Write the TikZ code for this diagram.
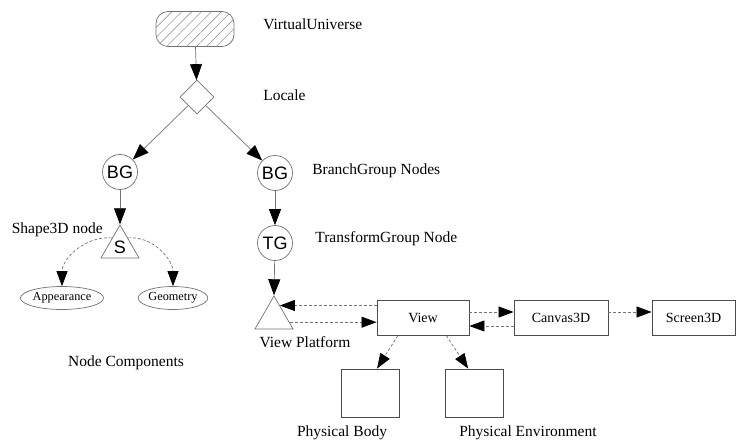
\documentclass[tikz,border=0pt]{standalone}
\usepackage{fontspec}
\setmainfont{Liberation Serif}
\newfontfamily\helv{Liberation Sans}
\usetikzlibrary{shapes.geometric,arrows.meta,patterns.meta,calc}

\tikzset{
  grp/.style={circle, draw=black!55, minimum size=35pt, inner sep=0pt, font=\helv\fontsize{18}{20}\selectfont},
  tri/.style={regular polygon, regular polygon sides=3, draw=black!55, minimum size=44pt, inner sep=0pt, font=\helv\fontsize{18}{20}\selectfont},
  comp/.style={ellipse, draw=black!55, minimum height=23pt, inner sep=0pt, font=\fontsize{12.3}{14}\selectfont},
  box/.style={rectangle, draw=black!70, line width=0.9pt, minimum height=35pt, inner sep=0pt, font=\fontsize{14}{16}\selectfont},
  lbl/.style={font=\fontsize{15.5}{18}\selectfont, inner sep=0pt},
  link/.style={draw=black!55, -{Triangle[length=16pt,width=12pt,color=black,fill=black]}},
  dlink/.style={link, -{Triangle[length=15pt,width=11pt,color=black,fill=black]}, dash pattern=on 3pt off 2pt},
}

\begin{document}
\begin{tikzpicture}[x=1pt,y=-1pt,line width=0.7pt]

\useasboundingbox (0,0) rectangle (736,441);

\coordinate (VU) at (195,29);
\coordinate (LO) at (197,97);
\coordinate (BGA) at (120,172);
\coordinate (BGB) at (275,173);
\coordinate (TG) at (275,243);
\coordinate (SH) at (120,247);
\coordinate (VP) at (274,318);
\coordinate (AP) at (62,298);
\coordinate (GE) at (173,298);
\coordinate (VI) at (423,317.5);
\coordinate (CA) at (561,317.5);
\coordinate (SC) at (693.5,317.5);
\coordinate (PB) at (370,393);
\coordinate (PE) at (474,393);

% scene graph
\node [draw=black!55, rounded corners=12pt, minimum width=78pt, minimum height=35pt,
  pattern={Lines[angle=45,distance=7pt,line width=0.6pt]}, pattern color=black!40] (vu) at (VU) {};
\node [diamond, draw=black!55, minimum size=34pt, inner sep=0pt] (locale) at (LO) {};
\node [grp] (bga) at (BGA) {BG};
\node [grp] (bgb) at (BGB) {BG};
\node [grp] (tg) at (TG) {TG};
\node [tri] (shape) at (SH) {S};
\node [tri] (vp) at (VP) {};
\node [comp, minimum width=70pt] (app) at (AP) {Appearance};
\node [comp, minimum width=60pt] (geo) at (GE) {Geometry};

% view side
\node [box, minimum width=92pt] (view) at (VI) {View};
\node [box, minimum width=94pt] (canvas) at (CA) {Canvas3D};
\node [box, minimum width=83pt] (screen) at (SC) {Screen3D};
\node [box, minimum width=58pt, minimum height=48pt] (body) at (PB) {};
\node [box, minimum width=58pt, minimum height=48pt] (env) at (PE) {};

\draw [link] (vu) -- (locale);
\draw [link] (locale) -- (bga);
\draw [link] (locale) -- (bgb);
\draw [link] (bga) -- (shape.corner 1);
\draw [link] (bgb) -- (tg);
\draw [link] (tg) -- (vp.corner 1);

\coordinate (sl) at ($(shape.corner 1)!0.4!(shape.corner 2)$);
\coordinate (sr) at ($(shape.corner 1)!0.4!(shape.corner 3)$);
\draw [dlink] (sl) to[out=175,in=90] (app.north);
\draw [dlink] (sr) to[out=5,in=90] (geo.north);

\coordinate (vpa) at ($(vp.corner 1)!0.3!(vp.corner 3)$);
\coordinate (vpb) at ($(vp.corner 1)!0.79!(vp.corner 3)$);
\draw [dlink] (view.west |- vpa) -- (vpa);
\draw [dlink] (vpb) -- (view.west |- vpb);
\draw [dlink] ([yshift=5.5pt]view.east) -- ([yshift=5.5pt]canvas.west);
\draw [dlink] ([yshift=-8.5pt]canvas.west) -- ([yshift=-8.5pt]view.east);
\draw [dlink] ([yshift=5.5pt]canvas.east) -- ([yshift=5.5pt]screen.west);
\draw [dlink] ($(view.south west)!0.23!(view.south east)$) -- ($(body.north west)!0.62!(body.north east)$);
\draw [dlink] ($(view.south west)!0.75!(view.south east)$) -- ($(env.north west)!0.4!(env.north east)$);

% labels
\node [lbl, anchor=west] at (263,24) {VirtualUniverse};
\node [lbl, anchor=west] at (263,95) {Locale};
\node [lbl, anchor=west] at (312,171) {BranchGroup Nodes};
\node [lbl, anchor=west] at (315,239) {TransformGroup Node};
\node [lbl, anchor=east] at (103,230) {Shape3D node};
\node [lbl] at (126,363) {Node Components};
\node [lbl] at (305,342) {View Platform};
\node [lbl] at (342,433) {Physical Body};
\node [lbl] at (528,433) {Physical Environment};

\end{tikzpicture}
\end{document}
